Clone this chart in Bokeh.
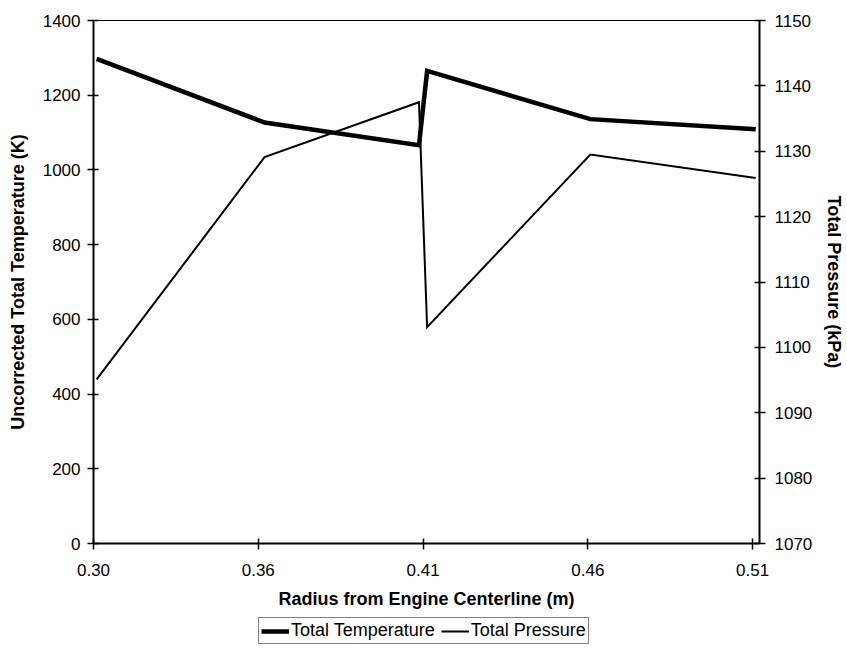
from bokeh.plotting import figure
from bokeh.models import Range1d, LinearAxis, FixedTicker, Legend, LegendItem
from bokeh.layouts import column
from bokeh.embed import file_html
from bokeh.resources import INLINE

# ---- data ----
radius_m = [0.305, 0.3585, 0.4077, 0.4103, 0.4623, 0.515]
total_temperature_K = [1297, 1127, 1066, 1265, 1136, 1109]
total_pressure_kPa = [1095.1, 1129.1, 1137.5, 1103.1, 1129.5, 1125.9]

x_tick_values = [0.304, 0.3565, 0.409, 0.4615, 0.514]
x_tick_labels = ["0.30", "0.36", "0.41", "0.46", "0.51"]
temp_ticks = [0, 200, 400, 600, 800, 1000, 1200, 1400]
press_ticks = [1070, 1080, 1090, 1100, 1110, 1120, 1130, 1140, 1150]
series_names = ["Total Temperature", "Total Pressure"]

FONT = "Liberation Sans"
T_WIDTH, P_WIDTH = 4.5, 2

p = figure(
    width=847, height=616,
    x_range=Range1d(0.304, 0.5162),
    y_range=Range1d(0, 1400),
    output_backend="svg", toolbar_location=None,
    min_border_left=93, min_border_right=85,
    min_border_top=20, min_border_bottom=73,
)
p.extra_y_ranges = {"press": Range1d(1070, 1150)}
p.xgrid.visible = False
p.ygrid.visible = False
p.background_fill_color = "white"
p.border_fill_color = "white"
p.outline_line_color = "black"
p.outline_line_width = 1

p.line(radius_m, total_temperature_K, line_color="black", line_width=T_WIDTH,
       line_join="miter")
p.line(radius_m, total_pressure_kPa, line_color="black", line_width=P_WIDTH,
       y_range_name="press", line_join="miter")

# bottom axis
xa = p.xaxis[0]
xa.ticker = FixedTicker(ticks=x_tick_values)
xa.major_label_overrides = {v: l for v, l in zip(x_tick_values, x_tick_labels)}
xa.axis_label = "Radius from Engine Centerline (m)"

# left axis
ya = p.yaxis[0]
ya.ticker = FixedTicker(ticks=temp_ticks)
ya.axis_label = "Uncorrected Total Temperature (K)"

# right axis
ra = LinearAxis(y_range_name="press", ticker=FixedTicker(ticks=press_ticks),
                axis_label="Total Pressure (kPa)")
p.add_layout(ra, "right")

for ax in (xa, ya, ra):
    ax.axis_line_color = "black"
    ax.axis_line_width = 2
    ax.major_tick_line_color = "black"
    ax.major_tick_line_width = 1.5
    ax.major_tick_in = 5
    ax.major_tick_out = 6
    ax.minor_tick_line_color = None
    ax.major_label_text_font = FONT
    ax.major_label_text_font_size = "17px"
    ax.major_label_text_color = "black"
    ax.axis_label_text_font = FONT
    ax.axis_label_text_font_size = "18px"
    ax.axis_label_text_font_style = "bold"
    ax.axis_label_text_color = "black"

xa.major_label_standoff = 14
xa.axis_label_standoff = 10
ya.major_label_standoff = 7
ya.axis_label_standoff = 12
ra.major_label_standoff = 9
ra.axis_label_standoff = 9

# ---- legend strip below the chart (its ranges keep the copies out of view) ----
lg = figure(
    width=847, height=34, x_range=Range1d(10, 11), y_range=Range1d(10, 11),
    output_backend="svg", toolbar_location=None,
    min_border=0, outline_line_color=None,
)
lg.axis.visible = False
lg.grid.visible = False
lg.border_fill_color = "white"
lt = lg.line(radius_m, total_temperature_K, line_color="black", line_width=T_WIDTH)
lp = lg.line(radius_m, total_pressure_kPa, line_color="black", line_width=P_WIDTH)
legend = Legend(
    items=[LegendItem(label=series_names[0], renderers=[lt]),
           LegendItem(label=series_names[1], renderers=[lp])],
    orientation="horizontal", location=(165, 6),
    border_line_color="black", border_line_width=1.5,
    background_fill_color="white", background_fill_alpha=1,
    label_text_font=FONT, label_text_font_size="18px", label_text_color="black",
    glyph_width=28, glyph_height=16, label_height=16,
    label_standoff=2, spacing=6, padding=2, margin=0,
)
lg.add_layout(legend, "center")

open("out.html", "w").write(file_html(column(p, lg, spacing=0), INLINE))
